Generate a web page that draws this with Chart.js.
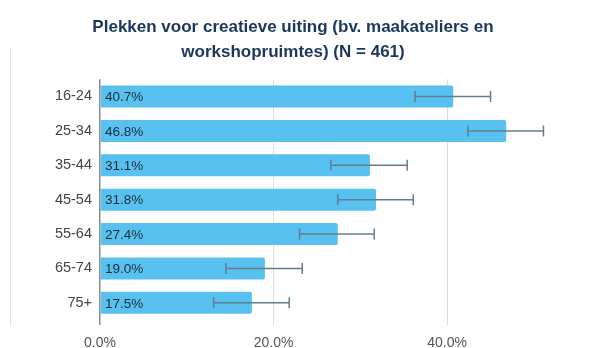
<!DOCTYPE html>
<html>
<head>
<meta charset="utf-8">
<script src="https://cdn.jsdelivr.net/npm/chart.js@4"></script>
<style>
  html, body { margin: 0; padding: 0; background: #fff; }
  #wrap { position: relative; width: 608px; height: 348px; }
  #edge { position: absolute; left: 10px; top: 47px; width: 1px; height: 279px; background: #e2e2e2; }
</style>
</head>
<body>
<div id="wrap">
  <div id="edge"></div>
  <canvas id="chart" width="608" height="348"></canvas>
</div>
<script>
// Data
const ageGroups = ['16-24', '25-34', '35-44', '45-54', '55-64', '65-74', '75+'];
const shares = [40.7, 46.8, 31.1, 31.8, 27.4, 19.0, 17.5];
const errLow = [36.3, 42.4, 26.6, 27.4, 23.0, 14.5, 13.1];
const errHigh = [45.0, 51.1, 35.4, 36.1, 31.6, 23.3, 21.8];
const xTicks = [0, 20, 40];

// Error bars + value labels inside the bars
const barExtras = {
  id: 'barExtras',
  afterDatasetsDraw(chart) {
    const { ctx, scales: { x, y } } = chart;
    ctx.save();
    ctx.strokeStyle = '#5f7f8f';
    ctx.lineWidth = 1.5;
    ageGroups.forEach((_, i) => {
      const cy = y.getPixelForValue(i);
      const x1 = x.getPixelForValue(errLow[i]);
      const x2 = x.getPixelForValue(errHigh[i]);
      ctx.beginPath();
      ctx.moveTo(x1, cy); ctx.lineTo(x2, cy);
      ctx.moveTo(x1, cy - 5.5); ctx.lineTo(x1, cy + 5.5);
      ctx.moveTo(x2, cy - 5.5); ctx.lineTo(x2, cy + 5.5);
      ctx.stroke();
    });
    ctx.fillStyle = '#1c2b38';
    ctx.font = '13.5px "Liberation Sans", Arial, sans-serif';
    ctx.textBaseline = 'middle';
    shares.forEach((v, i) => {
      ctx.fillText(v.toFixed(1) + '%', x.getPixelForValue(0) + 5, y.getPixelForValue(i) + 1);
    });
    ctx.restore();
  },
};

new Chart(document.getElementById('chart'), {
  type: 'bar',
  data: {
    labels: ageGroups,
    datasets: [{
      data: shares,
      backgroundColor: '#58c1ef',
      borderRadius: 2,
      borderSkipped: 'start',
      barPercentage: 0.8,
      categoryPercentage: 0.8,
    }],
  },
  options: {
    indexAxis: 'y',
    responsive: false,
    animation: false,
    layout: { padding: { left: 0, right: 22, top: 0, bottom: 0 } },
    plugins: {
      legend: { display: false },
      tooltip: { enabled: false },
      title: {
        display: true,
        text: ['Plekken voor creatieve uiting (bv. maakateliers en', 'workshopruimtes) (N = 461)'],
        color: '#1b365d',
        font: { family: '"Liberation Sans", Arial, sans-serif', size: 17, weight: 'bold', lineHeight: 1.45 },
        padding: { top: 15, bottom: 15 },
      },
    },
    scales: {
      x: {
        min: 0,
        max: 56,
        afterBuildTicks: s => { s.ticks = xTicks.map(v => ({ value: v })); },
        afterFit: s => { s.height = 28; },
        ticks: {
          callback: v => v.toFixed(1) + '%',
          color: '#555',
          padding: 10,
          maxRotation: 0,
          font: { family: '"Liberation Sans", Arial, sans-serif', size: 14 },
        },
        grid: {
          color: ctx => ctx.tick && ctx.tick.value === 0 ? '#8a8a8a' : '#dedede',
          lineWidth: ctx => ctx.tick && ctx.tick.value === 0 ? 1.5 : 1,
          tickLength: 5,
        },
        border: { display: false },
      },
      y: {
        afterFit: s => { s.width = 100; },
        ticks: {
          color: '#444',
          padding: 8,
          font: { family: '"Liberation Sans", Arial, sans-serif', size: 14.5 },
        },
        grid: { display: false, drawTicks: false },
        border: { display: false },
      },
    },
  },
  plugins: [barExtras],
});
</script>
</body>
</html>
